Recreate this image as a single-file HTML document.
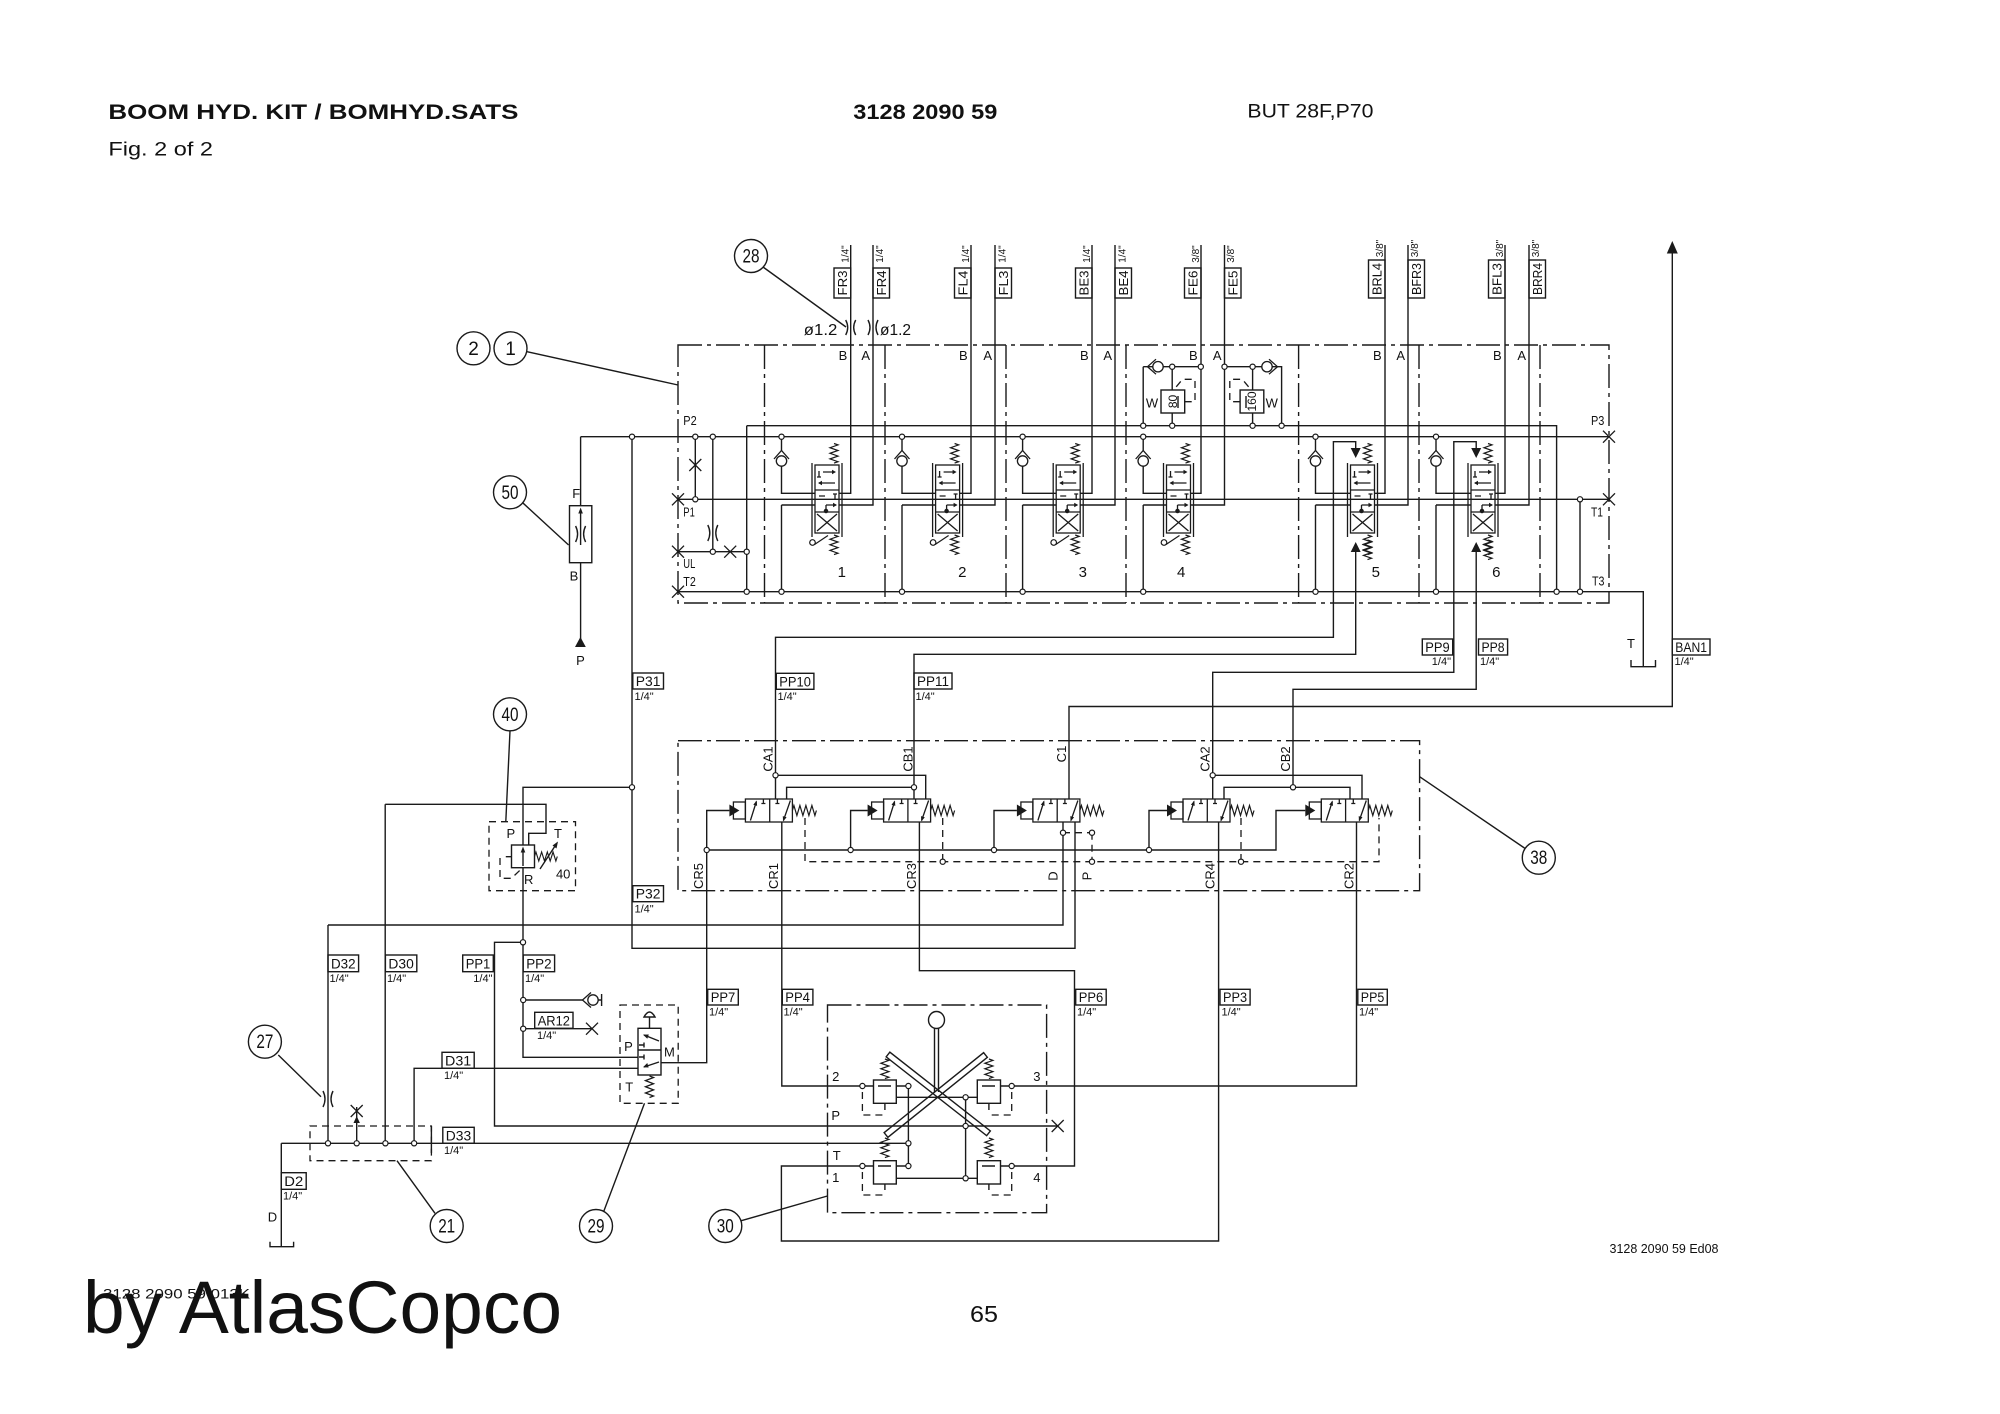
<!DOCTYPE html>
<html><head><meta charset="utf-8">
<style>
html,body{margin:0;padding:0;background:#fff;}
svg{display:block;}
text{font-family:"Liberation Sans",Arial,sans-serif;fill:#111;stroke:none;}
</style></head><body>
<svg width="2000" height="1414" viewBox="0 0 2000 1414" xmlns="http://www.w3.org/2000/svg">
<defs>
<g id="cv"><polyline fill="none" stroke="#1a1a1a" stroke-width="1.3" points="-7.5,8.5 0,0 7.5,8.5"/><circle cx="0" cy="10.5" r="5.2" fill="#fff" stroke="#1a1a1a" stroke-width="1.3"/></g>
<path id="sv" fill="none" stroke="#1a1a1a" stroke-width="1.2" d="M0,0 l4,1.4 l-8,2.8 l8,2.8 l-8,2.8 l8,2.8 l-8,2.8 l8,2.8 l-4,1.4"/>
<path id="sh" fill="none" stroke="#1a1a1a" stroke-width="1.2" d="M0,0 l1.5,-5 l3,10 l3,-10 l3,10 l3,-10 l3,10 l3,-10 l3,10 l1.5,-5"/>
<g id="tv" fill="none" stroke="#1a1a1a" stroke-width="1.3">
<rect x="0" y="0" width="24" height="68"/>
<line x1="-3" y1="-2" x2="-3" y2="72"/><line x1="27" y1="-2" x2="27" y2="72"/>
<line x1="0" y1="25" x2="24" y2="25"/><line x1="0" y1="47" x2="24" y2="47"/>
<path d="M4,6 V12 M2,12 H6 M8,7 H19 M4,18 H20 M20,29 V35 M18,29 H22 M4,31 H10 M11,40 H21 M11,40 V46 M2,49 L22,66 M22,49 L2,66"/>
<path fill="#1a1a1a" stroke="none" d="M21,7 l-4,-2.2 v4.4z M3,18 l4,-2.2 v4.4z M22,40 l-4,-2.2 v4.4z"/>
<circle cx="11" cy="46" r="1.6" fill="#1a1a1a"/>
</g>
<g id="bv" fill="none" stroke="#1a1a1a" stroke-width="1.3">
<path fill="#1a1a1a" stroke="none" d="M0,-6 V6 L10,0z"/>
<rect x="4" y="-8.5" width="12" height="17"/>
<rect x="16" y="-11.5" width="47" height="23"/>
<line x1="40.3" y1="-11.5" x2="40.3" y2="11.5"/>
<path d="M21,10 L27,-9 M34,-11.5 V-7 M32,-7 H36 M48,-11.5 V-7 M46,-7 H50 M61,-10 L54,10"/>
<path fill="#1a1a1a" stroke="none" d="M27.3,-10 L27.7,-4.6 L23.9,-5.8z M53.7,11 L53.4,5.6 L57.2,6.8z"/>
<use href="#sh" x="63" y="0"/>
</g>
<g id="xm" stroke="#1a1a1a" stroke-width="1.3"><line x1="-6" y1="-6" x2="6" y2="6"/><line x1="-6" y1="6" x2="6" y2="-6"/></g>
</defs>
<rect width="2000" height="1414" fill="#fff"/>

<!-- HEADER -->
<text x="108.4" y="119" font-size="21.5" font-weight="bold" textLength="410" lengthAdjust="spacingAndGlyphs">BOOM HYD. KIT / BOMHYD.SATS</text>
<text x="853.3" y="119" font-size="21.5" font-weight="bold" textLength="144" lengthAdjust="spacingAndGlyphs">3128 2090 59</text>
<text x="1247.4" y="117.5" font-size="19.5" textLength="126" lengthAdjust="spacingAndGlyphs">BUT 28F,P70</text>
<text x="108.4" y="155.7" font-size="19" textLength="104.6" lengthAdjust="spacingAndGlyphs">Fig. 2 of 2</text>

<!-- FOOTER -->
<text x="1609.5" y="1253" font-size="13" textLength="109" lengthAdjust="spacingAndGlyphs">3128 2090 59 Ed08</text>
<text x="103" y="1298.3" font-size="14" textLength="147" lengthAdjust="spacingAndGlyphs">3128 2090 59 013K</text>
<text x="83" y="1333" font-size="74" textLength="479" lengthAdjust="spacingAndGlyphs">by AtlasCopco</text>
<text x="970" y="1322" font-size="23" textLength="28" lengthAdjust="spacingAndGlyphs">65</text>

<!-- DASH-DOT BOUNDARIES -->
<g fill="none" stroke="#1a1a1a" stroke-width="1.4" stroke-dasharray="24 5 4 5">
<rect x="678" y="345" width="931" height="258"/>
<path d="M764.5,345 V603 M885,345 V603 M1006,345 V603 M1126,345 V603 M1298.6,345 V603 M1419,345 V603 M1540,345 V603"/>
<rect x="678" y="740.7" width="741.6" height="150"/>
<rect x="827.5" y="1005" width="219.1" height="207.7"/>
</g>
<!-- DASHED BOXES -->
<g fill="none" stroke="#1a1a1a" stroke-width="1.3" stroke-dasharray="7 5">
<rect x="489" y="821.7" width="86.5" height="69"/>
<rect x="620" y="1005" width="58.2" height="98.3"/>
<rect x="310" y="1126" width="121.4" height="34.7"/>
<path d="M805,818 V861.7 H1379 V818 M942.7,818 V861.7 M1092,832.7 V861.7 M1063,832.7 H1092 M1241,818 V861.7"/>
<path d="M500,858 V878.3 H511.5 L522,868.3"/>
<path d="M1184.7,401.7 H1195 V379.3 H1182.5 L1173.6,390 M1240.1,401.7 H1229.8 V379.3 H1242.3 L1251.2,390"/>
<path d="M862.4,1092 V1115 H886 M1011.7,1092 V1115 H988 M862.4,1172 V1195 H886 M1011.7,1172 V1195 H988"/>
</g>

<!-- SOLID LINES -->
<g fill="none" stroke="#1a1a1a" stroke-width="1.4">
<!-- top column lines -->
<path d="M850.7,245 V493.3 H839 M873,245 V505 H839"/>
<path d="M971,245 V493.3 H959.6 M995,245 V505 H959.6"/>
<path d="M1092,245 V493.3 H1080.2 M1115,245 V505 H1080.2"/>
<path d="M1201,245 V493.3 H1190.5 M1224.5,245 V505 H1190.5"/>
<path d="M1385,245 V493.3 H1374.5 M1408,245 V505 H1374.5"/>
<path d="M1505,245 V493.3 H1495 M1529,245 V505 H1495"/>
<!-- check valve lines -->
<path d="M781.5,436.7 V450.5 M781.5,466.5 V493.3 H815 M781.5,505 H815 M781.5,505 V591.7"/>
<path d="M902,436.7 V450.5 M902,466.5 V493.3 H935.6 M902,505 H935.6 M902,505 V591.7"/>
<path d="M1022.6,436.7 V450.5 M1022.6,466.5 V493.3 H1056.2 M1022.6,505 H1056.2 M1022.6,505 V591.7"/>
<path d="M1143.2,436.7 V450.5 M1143.2,466.5 V493.3 H1166.5 M1143.2,505 H1166.5 M1143.2,505 V591.7"/>
<path d="M1315.5,436.7 V450.5 M1315.5,466.5 V493.3 H1350.5 M1315.5,505 H1350.5 M1315.5,505 V591.7"/>
<path d="M1436,436.7 V450.5 M1436,466.5 V493.3 H1471 M1436,505 H1471 M1436,505 V591.7"/>
<!-- main block horizontals -->
<path d="M580.6,436.7 H1609 M678,499.3 H1609 M678,591.7 H1643.3 V666.7 M746.7,425.7 H1556.6 V591.7 M746.7,425.7 V591.7"/>
<path d="M695.3,436.7 V499.3 M712.8,436.7 V551.7 M678,551.7 H746.7 M1580,499.3 V591.7"/>
<path d="M1631,660 V666.7 H1655.5 V660"/>
<!-- sec 4 relief -->
<path d="M1143.2,366.7 H1200.8 M1143.2,366.7 V425.7 M1172.2,366.7 V425.7 M1224.5,366.7 H1281.6 V425.7 M1252.6,366.7 V425.7"/>
<rect x="1161" y="390" width="23.7" height="23" fill="#fff"/>
<rect x="1240.1" y="390" width="23.7" height="23" fill="#fff"/>
<path d="M1178,396 V408 M1246,396 V408"/>
<!-- orifices -->
<path d="M845.7,320 Q849.7,327.5 845.7,335 M855.7,320 Q851.7,327.5 855.7,335 M868,320 Q872,327.5 868,335 M878,320 Q874,327.5 878,335"/>
<path d="M707.8,525 Q711.8,533 707.8,541 M717.8,525 Q713.8,533 717.8,541"/>
<path d="M323,1091 Q327,1099 323,1107 M333,1091 Q329,1099 333,1107"/>
<!-- filter 50 -->
<path d="M580.6,436.7 V505.7 M580.6,562.7 V646"/>
<rect x="569.5" y="505.7" width="22.3" height="57"/>
<path d="M580.6,545 V512 M575.6,526 Q579.6,534 575.6,542 M585.6,526 Q581.6,534 585.6,542"/>
<!-- right arrow BAN1 -->
<path d="M1069,799 V706.5 H1672.3 V252"/>
<!-- pilot lines from valves 5 & 6 -->
<path d="M1355.7,448 V441.7 H1333.4 V637.3 H775.5 V799"/>
<path d="M1355.7,552 V654.3 H914 V799"/>
<path d="M1476.2,448 V441.7 H1453.8 V672.3 H1212.7 V799"/>
<path d="M1476.2,552 V689.3 H1293 V787.3"/>
<path d="M775.5,775.3 H925.7 V799 M786.6,799 V787.3 H914 M1212.7,775.3 H1362 V799 M1224,799 V787.3 H1350 V799"/>
<!-- block 38 pilot -->
<path d="M729.4,810.5 H706.7 V1062.7 H661 M706.7,850 H1276 V810.5 H1305.3 M850.6,850 V810.5 H867.6 M994,850 V810.5 H1016.9 M1149,850 V810.5 H1167"/>
<!-- P31 / relief / D lines -->
<path d="M632,436.7 V948.3 H1075 V822"/>
<path d="M632,787.3 H523 V1057.3 H638"/>
<path d="M523,942.3 H494.5 V1126 H1057.7"/>
<path d="M385.2,804.3 H546 V833.3 H528.7 V845 M385.2,804.3 V1143.3"/>
<path d="M328,925 H1063 V822 M328,925 V1143.3"/>
<path d="M281.3,1143.3 H908.4 M281.3,1143.3 V1246.7 M270,1241.7 V1246.7 H293.6 V1241.7"/>
<path d="M414.1,1143.3 V1068.3 H638"/>
<path d="M523.2,1000 H582.5 M598.2,1000 H601.6 M601.6,994 V1006 M523.2,1028.7 H592"/>
<path d="M431.4,1126 V1153 M356.7,1143.3 V1107"/>
<!-- bottom block 30 lines -->
<path d="M781.8,822 V1086 H873.5 M896.3,1086 H908.4 M1000.5,1086 H1356.5 V822"/>
<path d="M919.4,822 V970.7 H1074.5 V1166 H1000.5 M896.3,1166 H908.4"/>
<path d="M1218.6,822 V1241 H781.4 V1166 H873.5"/>
<path d="M908.4,1086 V1166 M892,1097.3 H977.3 M965.6,1097.3 V1178.3 M892,1178.3 H977.3"/>
<!-- crossing bars -->
<polygon points="886.15,1056.86 986.65,1135.66 990.35,1130.94 889.85,1052.14"/>
<polygon points="987.38,1057.34 887.88,1137.34 884.12,1132.66 983.62,1052.66"/>
<path d="M934.5,1028.5 V1092 M938.5,1028.5 V1092"/>
<ellipse cx="936.5" cy="1020" rx="8" ry="8.5" fill="#fff"/>
<rect x="873.5" y="1080" width="22.8" height="23.3" fill="#fff"/>
<rect x="977.3" y="1080" width="23.2" height="23.3" fill="#fff"/>
<rect x="873.5" y="1160.7" width="22.8" height="23.3" fill="#fff"/>
<rect x="977.3" y="1160.7" width="23.2" height="23.3" fill="#fff"/>
<path d="M878,1086 H891 M982,1086 H995 M878,1166 H891 M982,1166 H995 M884.9,1103.3 V1110 M988.9,1103.3 V1110 M884.9,1184 V1190 M988.9,1184 V1190"/>
<!-- relief valve 40 -->
<rect x="511.5" y="845" width="23" height="22.7" fill="#fff"/>
<path d="M523,866 V849 M505.8,856.7 H511.5 M540,869 L557,843"/>
<!-- valve 29 -->
<rect x="638" y="1028.3" width="23" height="46.7" fill="#fff"/>
<path d="M638,1050 H661 M659,1041 L644,1035 M639,1045 H644 M644,1042.5 V1047.5 M639,1057 H644 M644,1054.5 V1059.5 M659,1062 L644,1067 M649.5,1028.3 V1017"/>
<path d="M644,1017 Q649.5,1007 655,1017 Z" fill="#fff"/>
<!-- leaders -->
<path d="M763,267 L846,327 M527,351.7 L678,385 M522.6,502.7 L568.6,545 M510,731 L505.8,821.7 M1419.6,776.7 L1525,848.4 M278.3,1055 L321,1096.7 M397,1160.7 L435,1213.3 M644.5,1103.3 L603.6,1211.7 M827.4,1196 L741.3,1220.7"/>
<!-- top labels boxes -->
<rect x="834" y="268" width="16.7" height="30"/><rect x="873" y="268" width="16.5" height="30"/>
<rect x="954.5" y="268" width="16.5" height="30"/><rect x="995" y="268" width="16.5" height="30"/>
<rect x="1075.5" y="268" width="16.5" height="30"/><rect x="1115" y="268" width="16.5" height="30"/>
<rect x="1184.5" y="268" width="16.5" height="30"/><rect x="1224.5" y="268" width="16.5" height="30"/>
<rect x="1368.5" y="260" width="16.5" height="38"/><rect x="1408" y="260" width="16.5" height="38"/>
<rect x="1488.5" y="260" width="16.5" height="38"/><rect x="1529" y="260" width="16.5" height="38"/>
<!-- other label boxes -->
<rect x="632.8" y="673" width="30.7" height="16"/>
<rect x="632.8" y="885.7" width="30.7" height="16"/>
<rect x="776.3" y="673.3" width="37.6" height="16"/>
<rect x="914" y="673" width="38" height="16"/>
<rect x="1422.3" y="639" width="30.4" height="16"/>
<rect x="1478.5" y="639" width="29.1" height="16"/>
<rect x="1672.3" y="639" width="37.7" height="16"/>
<rect x="328" y="955" width="30.6" height="16.7"/>
<rect x="385.4" y="955" width="31.4" height="16.7"/>
<rect x="462.7" y="955" width="30.6" height="16.7"/>
<rect x="523.2" y="955" width="31.4" height="16.7"/>
<rect x="534.7" y="1012.3" width="38.3" height="16"/>
<rect x="707.7" y="989.3" width="30.6" height="15.7"/>
<rect x="782.3" y="989.3" width="30.6" height="15.7"/>
<rect x="1075.7" y="989.3" width="30.5" height="15.7"/>
<rect x="1220" y="989.3" width="30.1" height="15.7"/>
<rect x="1357.8" y="989.3" width="29.5" height="15.7"/>
<rect x="442" y="1052.3" width="32.2" height="16"/>
<rect x="442.8" y="1127.3" width="31.4" height="16"/>
<rect x="281.3" y="1172.7" width="24.9" height="16.6"/>
<!-- number circles -->
<circle cx="751" cy="256" r="16.5" fill="#fff"/>
<circle cx="473.5" cy="348.3" r="16.5" fill="#fff"/>
<circle cx="510.5" cy="348.3" r="16.5" fill="#fff"/>
<circle cx="510" cy="492.3" r="16.5" fill="#fff"/>
<circle cx="510" cy="714.3" r="16.5" fill="#fff"/>
<circle cx="1538.8" cy="857.7" r="16.5" fill="#fff"/>
<circle cx="264.9" cy="1041.7" r="16.5" fill="#fff"/>
<circle cx="446.7" cy="1226" r="16.5" fill="#fff"/>
<circle cx="596" cy="1226" r="16.5" fill="#fff"/>
<circle cx="725.3" cy="1226" r="16.5" fill="#fff"/>
</g>

<!-- arrowheads / triangles -->
<g fill="#1a1a1a" stroke="none">
<path d="M1672.3,241 L1666.8,253.5 L1677.8,253.5z"/>
<path d="M580.4,637 L575,647 L585.8,647z"/>
<path d="M580.6,507.5 L578.3,513.5 L582.9,513.5z"/>
<path d="M523,846.5 L520.7,852.5 L525.3,852.5z"/>
<path d="M558,841.5 L552.5,845.5 L556.5,848.5z"/>
<path d="M643,1034.6 L648.8,1034.5 L647.3,1038.8z M643,1067.3 L647.3,1063 L648.6,1067.5z"/>
<path d="M356.7,1116 L353.5,1123 L359.9,1123z"/>
<path d="M1350.7,448 H1360.7 L1355.7,458z M1350.7,552 H1360.7 L1355.7,542z"/>
<path d="M1471.2,448 H1481.2 L1476.2,458z M1471.2,552 H1481.2 L1476.2,542z"/>
</g>

<!-- top directional valves -->
<use href="#tv" x="815" y="465"/><use href="#tv" x="935.6" y="465"/><use href="#tv" x="1056.2" y="465"/>
<use href="#tv" x="1166.5" y="465"/><use href="#tv" x="1350.5" y="465"/><use href="#tv" x="1471" y="465"/>
<!-- springs top/bottom -->
<use href="#sv" x="834" y="443.5"/><use href="#sv" x="834" y="535"/>
<use href="#sv" x="954.6" y="443.5"/><use href="#sv" x="954.6" y="535"/>
<use href="#sv" x="1075.2" y="443.5"/><use href="#sv" x="1075.2" y="535"/>
<use href="#sv" x="1185.5" y="443.5"/><use href="#sv" x="1185.5" y="535"/>
<use href="#sv" x="1367.5" y="443.5"/><use href="#sv" x="1367.5" y="535"/><use href="#sv" x="1367.5" y="540"/>
<use href="#sv" x="1488" y="443.5"/><use href="#sv" x="1488" y="535"/><use href="#sv" x="1488" y="540"/>
<!-- levers -->
<g fill="none" stroke="#1a1a1a" stroke-width="1.2">
<circle cx="812.5" cy="542.5" r="2.8"/><line x1="814.5" y1="544.5" x2="828" y2="535.5"/>
<circle cx="933.1" cy="542.5" r="2.8"/><line x1="935.1" y1="544.5" x2="948.6" y2="535.5"/>
<circle cx="1053.7" cy="542.5" r="2.8"/><line x1="1055.7" y1="544.5" x2="1069.2" y2="535.5"/>
<circle cx="1164" cy="542.5" r="2.8"/><line x1="1166" y1="544.5" x2="1179.5" y2="535.5"/>
</g>
<!-- check valves -->
<use href="#cv" x="781.5" y="450.5"/><use href="#cv" x="902" y="450.5"/><use href="#cv" x="1022.6" y="450.5"/>
<use href="#cv" x="1143.2" y="450.5"/><use href="#cv" x="1315.5" y="450.5"/><use href="#cv" x="1436" y="450.5"/>
<use href="#cv" transform="translate(1147.5,366.7) rotate(-90)"/>
<use href="#cv" transform="translate(1277.5,366.7) rotate(90)"/>
<use href="#cv" transform="translate(582.5,1000) rotate(-90)"/>
<!-- block 38 valves -->
<use href="#bv" x="729.4" y="810.5"/><use href="#bv" x="867.6" y="810.5"/><use href="#bv" x="1016.9" y="810.5"/>
<use href="#bv" x="1167" y="810.5"/><use href="#bv" x="1305.3" y="810.5"/>
<!-- block 30 springs, 29 spring, 40 spring -->
<use href="#sv" x="884.9" y="1059"/><use href="#sv" x="988.9" y="1059"/>
<use href="#sv" x="884.9" y="1138"/><use href="#sv" x="988.9" y="1138"/>
<use href="#sv" transform="translate(649.5,1076) scale(1,1.1)"/>
<use href="#sh" transform="translate(534.5,856.5) scale(0.95,0.9)"/>
<!-- X marks -->
<use href="#xm" x="678" y="499.3"/><use href="#xm" x="678" y="551.7"/><use href="#xm" x="678" y="591.7"/>
<use href="#xm" x="1609" y="436.7"/><use href="#xm" x="1609" y="499.3"/>
<use href="#xm" x="695.3" y="465"/><use href="#xm" x="730.2" y="551.7"/>
<use href="#xm" x="592" y="1028.7"/><use href="#xm" x="356.7" y="1111"/><use href="#xm" x="1057.7" y="1126"/>

<!-- dots -->
<g fill="#fff" stroke="#1a1a1a" stroke-width="1.2">
<circle cx="632" cy="436.7" r="2.6"/><circle cx="695.3" cy="436.7" r="2.6"/><circle cx="712.8" cy="436.7" r="2.6"/>
<circle cx="781.5" cy="436.7" r="2.6"/><circle cx="902" cy="436.7" r="2.6"/><circle cx="1022.6" cy="436.7" r="2.6"/>
<circle cx="1143.2" cy="436.7" r="2.6"/><circle cx="1315.5" cy="436.7" r="2.6"/><circle cx="1436" cy="436.7" r="2.6"/>
<circle cx="695.3" cy="499.3" r="2.6"/><circle cx="1580" cy="499.3" r="2.6"/>
<circle cx="712.8" cy="551.7" r="2.6"/><circle cx="746.7" cy="551.7" r="2.6"/>
<circle cx="746.7" cy="591.7" r="2.6"/><circle cx="781.5" cy="591.7" r="2.6"/><circle cx="902" cy="591.7" r="2.6"/>
<circle cx="1022.6" cy="591.7" r="2.6"/><circle cx="1143.2" cy="591.7" r="2.6"/><circle cx="1315.5" cy="591.7" r="2.6"/>
<circle cx="1436" cy="591.7" r="2.6"/><circle cx="1556.6" cy="591.7" r="2.6"/><circle cx="1580" cy="591.7" r="2.6"/>
<circle cx="1143.2" cy="425.7" r="2.6"/><circle cx="1172.2" cy="425.7" r="2.6"/><circle cx="1252.6" cy="425.7" r="2.6"/><circle cx="1281.6" cy="425.7" r="2.6"/>
<circle cx="1172.2" cy="366.7" r="2.6"/><circle cx="1200.8" cy="366.7" r="2.6"/><circle cx="1224.5" cy="366.7" r="2.6"/><circle cx="1252.6" cy="366.7" r="2.6"/>
<circle cx="632" cy="787.3" r="2.6"/>
<circle cx="775.5" cy="775.3" r="2.6"/><circle cx="914" cy="787.3" r="2.6"/><circle cx="1212.7" cy="775.3" r="2.6"/><circle cx="1293" cy="787.3" r="2.6"/>
<circle cx="706.7" cy="850" r="2.6"/><circle cx="850.6" cy="850" r="2.6"/><circle cx="994" cy="850" r="2.6"/><circle cx="1149" cy="850" r="2.6"/>
<circle cx="1063" cy="832.7" r="2.6"/><circle cx="1092" cy="832.7" r="2.6"/>
<circle cx="942.7" cy="861.7" r="2.6"/><circle cx="1092" cy="861.7" r="2.6"/><circle cx="1241" cy="861.7" r="2.6"/>
<circle cx="523" cy="942.3" r="2.6"/><circle cx="523.2" cy="1000" r="2.6"/><circle cx="523.2" cy="1028.7" r="2.6"/>
<circle cx="328" cy="1143.3" r="2.6"/><circle cx="356.7" cy="1143.3" r="2.6"/><circle cx="385.4" cy="1143.3" r="2.6"/><circle cx="414.1" cy="1143.3" r="2.6"/>
<circle cx="862.4" cy="1086" r="2.6"/><circle cx="908.4" cy="1086" r="2.6"/><circle cx="1011.7" cy="1086" r="2.6"/>
<circle cx="908.4" cy="1143.3" r="2.6"/><circle cx="908.4" cy="1166" r="2.6"/><circle cx="862.4" cy="1166" r="2.6"/><circle cx="1011.7" cy="1166" r="2.6"/>
<circle cx="965.6" cy="1097.3" r="2.6"/><circle cx="965.6" cy="1126" r="2.6"/><circle cx="965.6" cy="1178.3" r="2.6"/>
</g>

<!-- TEXT LABELS -->
<g font-size="13">
<!-- top rotated labels -->
<text transform="translate(842.3,283) rotate(-90)" text-anchor="middle" y="4.6" textLength="25" lengthAdjust="spacingAndGlyphs">FR3</text>
<text transform="translate(881.3,283) rotate(-90)" text-anchor="middle" y="4.6" textLength="25" lengthAdjust="spacingAndGlyphs">FR4</text>
<text transform="translate(962.8,283) rotate(-90)" text-anchor="middle" y="4.6" textLength="25" lengthAdjust="spacingAndGlyphs">FL4</text>
<text transform="translate(1003.3,283) rotate(-90)" text-anchor="middle" y="4.6" textLength="25" lengthAdjust="spacingAndGlyphs">FL3</text>
<text transform="translate(1083.8,283) rotate(-90)" text-anchor="middle" y="4.6" textLength="25" lengthAdjust="spacingAndGlyphs">BE3</text>
<text transform="translate(1123.3,283) rotate(-90)" text-anchor="middle" y="4.6" textLength="25" lengthAdjust="spacingAndGlyphs">BE4</text>
<text transform="translate(1192.8,283) rotate(-90)" text-anchor="middle" y="4.6" textLength="25" lengthAdjust="spacingAndGlyphs">FE6</text>
<text transform="translate(1232.8,283) rotate(-90)" text-anchor="middle" y="4.6" textLength="25" lengthAdjust="spacingAndGlyphs">FE5</text>
<text transform="translate(1376.8,279) rotate(-90)" text-anchor="middle" y="4.6" textLength="32" lengthAdjust="spacingAndGlyphs">BRL4</text>
<text transform="translate(1416.3,279) rotate(-90)" text-anchor="middle" y="4.6" textLength="32" lengthAdjust="spacingAndGlyphs">BFR3</text>
<text transform="translate(1496.8,279) rotate(-90)" text-anchor="middle" y="4.6" textLength="32" lengthAdjust="spacingAndGlyphs">BFL3</text>
<text transform="translate(1537.3,279) rotate(-90)" text-anchor="middle" y="4.6" textLength="32" lengthAdjust="spacingAndGlyphs">BRR4</text>
</g>
<g font-size="10">
<text transform="translate(845,254) rotate(-90)" text-anchor="middle" y="3.6">1/4"</text>
<text transform="translate(879.5,254) rotate(-90)" text-anchor="middle" y="3.6">1/4"</text>
<text transform="translate(965.5,254) rotate(-90)" text-anchor="middle" y="3.6">1/4"</text>
<text transform="translate(1001.7,254) rotate(-90)" text-anchor="middle" y="3.6">1/4"</text>
<text transform="translate(1086.5,254) rotate(-90)" text-anchor="middle" y="3.6">1/4"</text>
<text transform="translate(1121.7,254) rotate(-90)" text-anchor="middle" y="3.6">1/4"</text>
<text transform="translate(1195.3,254) rotate(-90)" text-anchor="middle" y="3.6">3/8"</text>
<text transform="translate(1230.5,254) rotate(-90)" text-anchor="middle" y="3.6">3/8"</text>
<text transform="translate(1379.5,248.5) rotate(-90)" text-anchor="middle" y="3.6">3/8"</text>
<text transform="translate(1414.5,248.5) rotate(-90)" text-anchor="middle" y="3.6">3/8"</text>
<text transform="translate(1499.5,248.5) rotate(-90)" text-anchor="middle" y="3.6">3/8"</text>
<text transform="translate(1535.5,248.5) rotate(-90)" text-anchor="middle" y="3.6">3/8"</text>
</g>

<!-- orifice texts -->
<text x="803.8" y="335" font-size="16" textLength="33.5" lengthAdjust="spacingAndGlyphs">ø1.2</text>
<text x="880" y="335" font-size="16" textLength="31" lengthAdjust="spacingAndGlyphs">ø1.2</text>

<!-- B / A labels -->
<g font-size="13" text-anchor="middle">
<text x="843" y="360">B</text><text x="865.7" y="360">A</text>
<text x="963.3" y="360">B</text><text x="987.7" y="360">A</text>
<text x="1084.3" y="360">B</text><text x="1107.7" y="360">A</text>
<text x="1193.3" y="360">B</text><text x="1217.2" y="360">A</text>
<text x="1377.3" y="360">B</text><text x="1400.7" y="360">A</text>
<text x="1497.3" y="360">B</text><text x="1521.7" y="360">A</text>
<!-- section numbers -->
<text x="841.8" y="577" font-size="15">1</text>
<text x="962.3" y="577" font-size="15">2</text>
<text x="1082.8" y="577" font-size="15">3</text>
<text x="1181.2" y="577" font-size="15">4</text>
<text x="1375.8" y="577" font-size="15">5</text>
<text x="1496.3" y="577" font-size="15">6</text>
<!-- W labels -->
<text x="1152" y="407.5">W</text><text x="1271.8" y="407.5">W</text>
<!-- misc -->
<text x="576.2" y="498">F</text><text x="574" y="580.5">B</text><text x="580.4" y="665">P</text>
<text x="510.8" y="838">P</text><text x="558" y="838">T</text><text x="528.7" y="884">R</text><text x="563.2" y="878.5">40</text>
<text x="835.7" y="1081">2</text><text x="1036.9" y="1081">3</text><text x="835.7" y="1120">P</text>
<text x="836.7" y="1160">T</text><text x="835.7" y="1182">1</text><text x="1036.9" y="1182">4</text>
<text x="628.4" y="1051">P</text><text x="669.4" y="1056.5">M</text><text x="629.2" y="1091.5">T</text>
<text x="272.5" y="1221.5">D</text><text x="1631" y="648">T</text>
</g>
<g font-size="12" text-anchor="middle">
<text transform="translate(1173,401.5) rotate(-90)" y="4.2">80</text>
<text transform="translate(1252,401.5) rotate(-90)" y="4.2">160</text>
</g>
<g font-size="13">
<text x="683.3" y="425" textLength="13.4" lengthAdjust="spacingAndGlyphs">P2</text>
<text x="683.3" y="516.7" textLength="11.5" lengthAdjust="spacingAndGlyphs">P1</text>
<text x="683.3" y="568" textLength="12" lengthAdjust="spacingAndGlyphs">UL</text>
<text x="683.3" y="586" textLength="12.5" lengthAdjust="spacingAndGlyphs">T2</text>
<text x="1591" y="425" textLength="13.4" lengthAdjust="spacingAndGlyphs">P3</text>
<text x="1591" y="516.7" textLength="12" lengthAdjust="spacingAndGlyphs">T1</text>
<text x="1592" y="585.7" textLength="12.5" lengthAdjust="spacingAndGlyphs">T3</text>
</g>
<!-- block 38 rotated labels -->
<g font-size="13" text-anchor="middle">
<text transform="translate(767.7,759) rotate(-90)" y="4.6">CA1</text>
<text transform="translate(907.8,759) rotate(-90)" y="4.6">CB1</text>
<text transform="translate(1061.2,754) rotate(-90)" y="4.6">C1</text>
<text transform="translate(1204.7,759) rotate(-90)" y="4.6">CA2</text>
<text transform="translate(1285.5,759) rotate(-90)" y="4.6">CB2</text>
<text transform="translate(698.2,876) rotate(-90)" y="4.6">CR5</text>
<text transform="translate(773.6,876) rotate(-90)" y="4.6">CR1</text>
<text transform="translate(911.4,876) rotate(-90)" y="4.6">CR3</text>
<text transform="translate(1053,876) rotate(-90)" y="4.6">D</text>
<text transform="translate(1087,876) rotate(-90)" y="4.6">P</text>
<text transform="translate(1209.8,876) rotate(-90)" y="4.6">CR4</text>
<text transform="translate(1349,876) rotate(-90)" y="4.6">CR2</text>
</g>

<!-- boxed labels -->
<g font-size="13.5">
<text x="635.8" y="686" textLength="24.7" lengthAdjust="spacingAndGlyphs">P31</text>
<text x="635.8" y="898.7" textLength="24.7" lengthAdjust="spacingAndGlyphs">P32</text>
<text x="779.3" y="686.3" textLength="31.6" lengthAdjust="spacingAndGlyphs">PP10</text>
<text x="917" y="686" textLength="32" lengthAdjust="spacingAndGlyphs">PP11</text>
<text x="1425.3" y="652" textLength="24.4" lengthAdjust="spacingAndGlyphs">PP9</text>
<text x="1481.5" y="652" textLength="23.1" lengthAdjust="spacingAndGlyphs">PP8</text>
<text x="1675.3" y="652" textLength="31.7" lengthAdjust="spacingAndGlyphs">BAN1</text>
<text x="331" y="968.5" textLength="24.6" lengthAdjust="spacingAndGlyphs">D32</text>
<text x="388.4" y="968.5" textLength="25.4" lengthAdjust="spacingAndGlyphs">D30</text>
<text x="465.7" y="968.5" textLength="24.6" lengthAdjust="spacingAndGlyphs">PP1</text>
<text x="526.2" y="968.5" textLength="25.4" lengthAdjust="spacingAndGlyphs">PP2</text>
<text x="537.7" y="1025.3" textLength="32.3" lengthAdjust="spacingAndGlyphs">AR12</text>
<text x="710.7" y="1002" textLength="24.6" lengthAdjust="spacingAndGlyphs">PP7</text>
<text x="785.3" y="1002" textLength="24.6" lengthAdjust="spacingAndGlyphs">PP4</text>
<text x="1078.7" y="1002" textLength="24.5" lengthAdjust="spacingAndGlyphs">PP6</text>
<text x="1223" y="1002" textLength="24.1" lengthAdjust="spacingAndGlyphs">PP3</text>
<text x="1360.8" y="1002" textLength="23.5" lengthAdjust="spacingAndGlyphs">PP5</text>
<text x="445" y="1065.3" textLength="26.2" lengthAdjust="spacingAndGlyphs">D31</text>
<text x="445.8" y="1140.3" textLength="25.4" lengthAdjust="spacingAndGlyphs">D33</text>
<text x="284.3" y="1186" textLength="18.9" lengthAdjust="spacingAndGlyphs">D2</text>
</g>
<g font-size="11">
<text x="634.5" y="700">1/4"</text>
<text x="634.5" y="912.5">1/4"</text>
<text x="777.5" y="700">1/4"</text>
<text x="915.5" y="700">1/4"</text>
<text x="1451" y="665" text-anchor="end">1/4"</text>
<text x="1480" y="665">1/4"</text>
<text x="1674.5" y="665">1/4"</text>
<text x="329.5" y="982">1/4"</text>
<text x="387" y="982">1/4"</text>
<text x="492.5" y="982" text-anchor="end">1/4"</text>
<text x="525" y="982">1/4"</text>
<text x="537" y="1039">1/4"</text>
<text x="709" y="1015.5">1/4"</text>
<text x="783.5" y="1015.5">1/4"</text>
<text x="1077" y="1015.5">1/4"</text>
<text x="1221.5" y="1015.5">1/4"</text>
<text x="1359" y="1015.5">1/4"</text>
<text x="444" y="1079">1/4"</text>
<text x="444" y="1154">1/4"</text>
<text x="283" y="1199.5">1/4"</text>
</g>

<!-- circle numbers -->
<g font-size="19" text-anchor="middle">
<text x="751" y="262.5" textLength="17" lengthAdjust="spacingAndGlyphs">28</text>
<text x="473.5" y="354.8">2</text>
<text x="510.5" y="354.8">1</text>
<text x="510" y="498.8" textLength="17" lengthAdjust="spacingAndGlyphs">50</text>
<text x="510" y="720.8" textLength="17" lengthAdjust="spacingAndGlyphs">40</text>
<text x="1538.8" y="864.2" textLength="17" lengthAdjust="spacingAndGlyphs">38</text>
<text x="264.9" y="1048.2" textLength="17" lengthAdjust="spacingAndGlyphs">27</text>
<text x="446.7" y="1232.5" textLength="17" lengthAdjust="spacingAndGlyphs">21</text>
<text x="596" y="1232.5" textLength="17" lengthAdjust="spacingAndGlyphs">29</text>
<text x="725.3" y="1232.5" textLength="17" lengthAdjust="spacingAndGlyphs">30</text>
</g>
</svg>
</body></html>
